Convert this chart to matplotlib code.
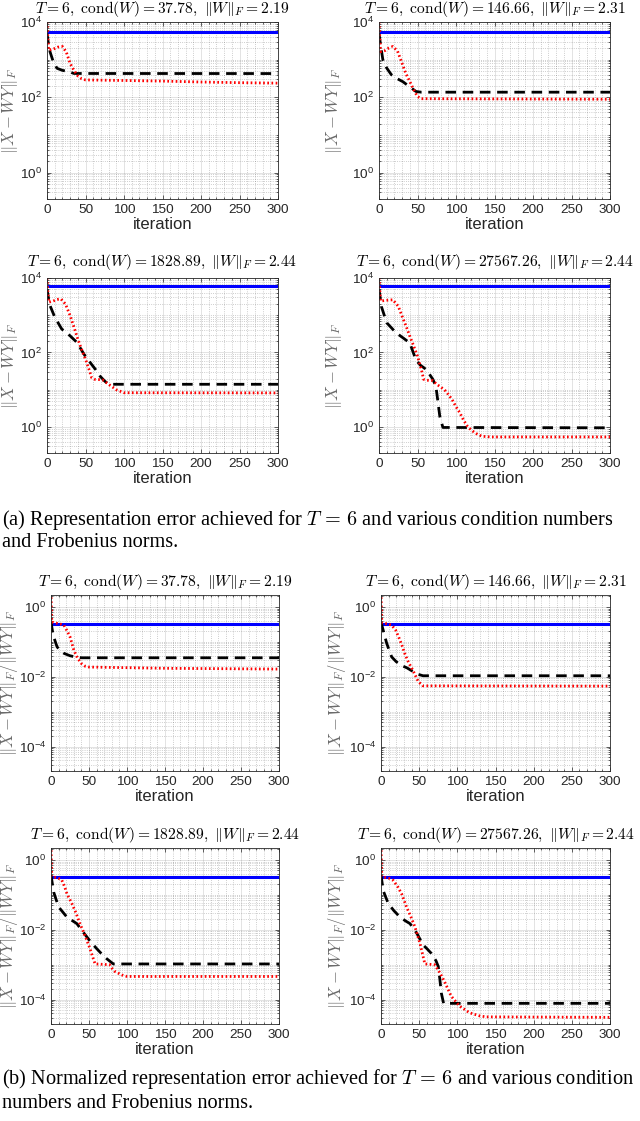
import numpy as np
import matplotlib
matplotlib.use('Agg')
import matplotlib.pyplot as plt
from matplotlib.ticker import LogLocator, FuncFormatter, MultipleLocator, NullFormatter

plt.rcParams['font.family'] = ['Liberation Sans', 'DejaVu Sans']
plt.rcParams['mathtext.fontset'] = 'cm'

# panel titles
cond_vals = ['37.78', '146.66', '1828.89', '27567.26']
fro_vals = ['2.19', '2.31', '2.44', '2.44']

# blue (flat) levels per panel
blue_a = [5300, 5300, 6000, 6000]
blue_b = [0.32, 0.32, 0.32, 0.32]

# (a) representation error, black dashed
it_black_a1 = [0, 2, 4, 8, 13, 20, 28, 35, 300]
err_black_a1 = [5000, 2500, 1600, 900, 590, 520, 484, 430, 428]
it_black_a2 = [0, 2, 5, 10, 16, 24, 31, 40, 48, 55, 300]
err_black_a2 = [5000, 2500, 1000, 600, 400, 310, 260, 190, 143, 137, 137]
it_black_a3 = [0, 2, 4, 10, 19, 30, 39, 48, 56, 63, 69, 75, 80, 300]
err_black_a3 = [5000, 2800, 1800, 900, 430, 280, 185, 90, 54, 35, 23, 17, 14, 14]
it_black_a4 = [0, 1.5, 3, 10, 22, 32, 40, 48, 54, 59, 65, 70, 74, 77, 79, 83, 300]
err_black_a4 = [5000, 3000, 1740, 630, 340, 240, 180, 63, 45, 38, 27, 19, 12, 4, 1.9, 0.97, 0.95]

# (a) representation error, red dotted
it_red_a1 = [0, 2, 8, 14, 20, 25, 30, 35, 40, 45, 50, 100, 150, 200, 250, 300]
err_red_a1 = [1e4, 1800, 1900, 2150, 2240, 1600, 800, 520, 370, 310, 290, 280, 270, 255, 245, 238]
it_red_a2 = [0, 2, 8, 13, 18, 24, 30, 35, 40, 45, 50, 55, 300]
err_red_a2 = [1e4, 1630, 1750, 2050, 2240, 1700, 800, 420, 263, 160, 105, 92, 89]
it_red_a3 = [0, 2, 8, 13, 18, 24, 30, 35, 40, 45, 50, 55, 58, 62, 72, 80, 90, 100, 300]
err_red_a3 = [1e4, 2240, 2400, 2650, 2750, 2000, 980, 480, 230, 120, 66, 33, 21, 19, 18.5, 14, 10, 8.3, 8.2]
it_red_a4 = [0, 2, 8, 13, 18, 25, 30, 35, 40, 45, 50, 55, 58, 62, 70, 75, 85, 90, 95, 100,
             105, 110, 115, 120, 125, 130, 135, 145, 300]
err_red_a4 = [1e4, 2400, 2500, 2550, 2600, 1750, 940, 520, 275, 150, 80, 35, 19, 18, 17.5, 14, 10, 7.5, 5.4, 3.5,
              2.4, 1.5, 1.04, 0.82, 0.69, 0.6, 0.56, 0.54, 0.54]

# (b) normalized error, black dashed
it_black_b1 = [0, 2, 3.5, 8, 12, 17, 25, 32, 40, 300]
err_black_b1 = [0.37, 0.2, 0.14, 0.072, 0.056, 0.047, 0.04, 0.037, 0.035, 0.035]
it_black_b2 = [0, 3, 7.5, 14, 20, 27, 34, 40, 49, 55, 300]
err_black_b2 = [0.37, 0.21, 0.09, 0.037, 0.027, 0.021, 0.018, 0.015, 0.0117, 0.0107, 0.0107]
it_black_b3 = [0, 3.5, 10, 21, 34, 40, 47, 53, 60, 67, 73, 82, 300]
err_black_b3 = [0.37, 0.12, 0.045, 0.023, 0.015, 0.01, 0.0063, 0.0043, 0.0029, 0.002, 0.0015, 0.00105, 0.00105]
it_black_b4 = [0, 3, 9.6, 17, 25, 32, 38, 47, 55, 60, 66, 72, 75, 77, 79, 82, 300]
err_black_b4 = [0.37, 0.13, 0.056, 0.035, 0.023, 0.018, 0.015, 0.0079, 0.0037, 0.0029, 0.0021, 0.0013,
                0.00089, 0.0004, 0.000155, 7.8e-5, 7.8e-5]

# (b) normalized error, red dotted
it_red_b1 = [0, 1, 8, 13, 17, 21, 25, 30, 35, 40, 45, 50, 150, 300]
err_red_b1 = [2.5, 0.37, 0.34, 0.32, 0.3, 0.21, 0.14, 0.058, 0.034, 0.024, 0.02, 0.019, 0.0175, 0.0166]
it_red_b2 = [0, 1, 8, 14, 19, 23, 27, 31, 36, 42, 46, 49, 55, 300]
err_red_b2 = [2.5, 0.35, 0.33, 0.3, 0.22, 0.14, 0.085, 0.047, 0.026, 0.015, 0.0098, 0.0072, 0.0055, 0.0054]
it_red_b3 = [0, 1, 8, 14, 18, 21, 27.5, 33, 38, 43, 47, 51, 54, 58, 77, 80, 84, 93, 100, 300]
err_red_b3 = [2.5, 0.33, 0.31, 0.27, 0.17, 0.107, 0.056, 0.03, 0.015, 0.0085, 0.0051, 0.003, 0.0019,
              0.00105, 0.001, 0.0008, 0.00064, 0.00051, 0.00046, 0.00046]
it_red_b4 = [0, 1, 10, 16, 22, 27, 33.5, 39, 44.5, 51, 57.5, 70, 75, 80, 84, 92, 103, 116, 129.5, 138, 300]
err_red_b4 = [2.5, 0.33, 0.3, 0.26, 0.17, 0.107, 0.045, 0.024, 0.012, 0.0041, 0.00105, 0.001, 0.0007,
              0.00045, 0.0003, 0.000125, 6.5e-5, 4.2e-5, 3.4e-5, 3.2e-5, 3.1e-5]

black_a = [(it_black_a1, err_black_a1), (it_black_a2, err_black_a2),
           (it_black_a3, err_black_a3), (it_black_a4, err_black_a4)]
red_a = [(it_red_a1, err_red_a1), (it_red_a2, err_red_a2),
         (it_red_a3, err_red_a3), (it_red_a4, err_red_a4)]
black_b = [(it_black_b1, err_black_b1), (it_black_b2, err_black_b2),
           (it_black_b3, err_black_b3), (it_black_b4, err_black_b4)]
red_b = [(it_red_b1, err_red_b1), (it_red_b2, err_red_b2),
         (it_red_b3, err_red_b3), (it_red_b4, err_red_b4)]

W, H = 640, 1121
fig = plt.figure(figsize=(W / 100, H / 100), dpi=100)

AX_COL = '#262626'


def add_box(l, t, r, b):
    return fig.add_axes([l / W, 1 - b / H, (r - l) / W, (b - t) / H])


def log_fmt(v, pos):
    e = int(round(np.log10(v)))
    return r'$\mathregular{10^{%d}}$' % e


def style(ax, ylim, yticks, ylabel, label_right):
    ax.set_yscale('log')
    ax.set_xlim(0, 300)
    ax.set_ylim(*ylim)
    ax.set_yticks(yticks)
    ax.yaxis.set_major_formatter(FuncFormatter(log_fmt))
    ax.yaxis.set_minor_locator(LogLocator(base=10, subs=np.arange(1, 10), numticks=100))
    ax.yaxis.set_minor_formatter(NullFormatter())
    ax.xaxis.set_major_locator(MultipleLocator(50))
    ax.xaxis.set_minor_locator(MultipleLocator(10))
    ax.grid(True, which='major', color=AX_COL, alpha=0.15, lw=0.6)
    ax.grid(True, which='minor', color=AX_COL, alpha=0.3, lw=0.6, ls=':')
    ax.tick_params(which='both', direction='in', top=True, right=True, colors=AX_COL,
                   labelsize=9.7, width=0.5)
    ax.tick_params(which='major', length=3)
    ax.tick_params(which='minor', length=1.5)
    for s in ax.spines.values():
        s.set_color(AX_COL)
        s.set_linewidth(0.6)
    ax.set_xlabel('iteration', fontsize=12, color=AX_COL, labelpad=1)
    ax.set_ylabel(ylabel, fontsize=12, color='#6a6a6a')
    # right edge of the rotated label, in figure pixels
    pos = ax.get_position()
    ax.yaxis.set_label_coords((label_right - pos.x0 * W) / (pos.width * W), 0.5)


def title(ax, i, pad):
    ax.set_title(r'$T{=}6,\ \mathrm{cond}(W){=}%s,\ \|W\|_F{=}%s$' % (cond_vals[i], fro_vals[i]),
                 fontsize=11.2, pad=pad)


def draw(ax, blue, black, red):
    ax.plot([0, 300], [blue, blue], color='#0000ff', lw=2.2, solid_capstyle='butt')
    ax.plot(black[0], black[1], color='black', lw=2.0, ls=(0, (3.8, 2.4)))
    ax.plot(red[0], red[1], color='#ff0000', lw=2.0, ls=(0, (0.6, 0.9)))


lefts = [(47, 278), (379, 610)]
rows_a = [(22, 199), (278, 453)]
label_a = [20, 344]
lefts_b = [(51, 279), (381, 610)]
rows_b = [(595, 771), (848, 1024)]
label_b = [20, 348]

for i in range(4):
    r, c = divmod(i, 2)
    ax = add_box(lefts[c][0], rows_a[r][0], lefts[c][1], rows_a[r][1])
    draw(ax, blue_a[i], black_a[i], red_a[i])
    style(ax, (0.2, 1e4), [1e0, 1e2, 1e4], r'$\|X-WY\|_F$', label_a[c])
    title(ax, i, 6.5 if r == 0 else 8.5)

for i in range(4):
    r, c = divmod(i, 2)
    ax = add_box(lefts_b[c][0], rows_b[r][0], lefts_b[c][1], rows_b[r][1])
    draw(ax, blue_b[i], black_b[i], red_b[i])
    style(ax, (2e-5, 2.2), [1e-4, 1e-2, 1e0], r'$\|X-WY\|_F/\|WY\|_F$', label_b[c])
    title(ax, i, 6.5)

cap = dict(fontfamily='Liberation Serif', fontsize=14.6, ha='left', va='center', color='black')
fig.text(2 / W, 1 - 520 / H,
         r'(a) Representation error achieved for $T\,=\,6$ and various condition numbers', **cap)
fig.text(2 / W, 1 - 543 / H, 'and Frobenius norms.', **cap)
fig.text(2 / W, 1 - 1079 / H,
         r'(b) Normalized representation error achieved for $T\,=\,6$ and various condition', **cap)
fig.text(2 / W, 1 - 1103 / H, 'numbers and Frobenius norms.', **cap)

fig.savefig('out.png', dpi=100)
